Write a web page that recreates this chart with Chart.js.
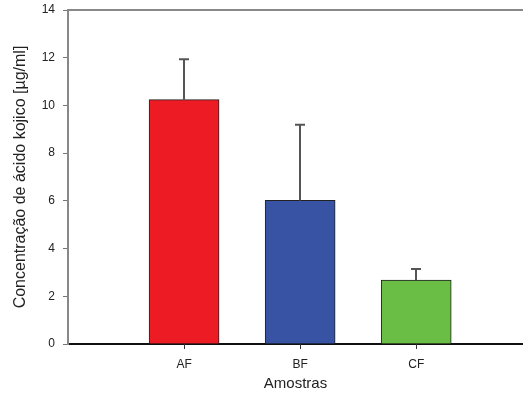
<!DOCTYPE html>
<html>
<head>
<meta charset="utf-8">
<script src="https://cdn.jsdelivr.net/npm/chart.js@4/dist/chart.umd.min.js"></script>
<style>
  html, body { margin: 0; padding: 0; background: #fff; }
  canvas { display: block; }
</style>
</head>
<body>
<canvas id="grafico" width="523" height="398"></canvas>
<script>
// amostras e concentracao media (barras) + limite superior do erro
const amostras = ["AF", "BF", "CF"];
const posicoes = [1, 2, 3];
const medias = [10.24, 6.02, 2.68];
const erroSup = [11.94, 9.19, 3.14];
const cores = ["#ED1C24", "#3953A4", "#6ABD45"];
const yTicks = [0, 2, 4, 6, 8, 10, 12, 14];

// barras de erro (so para cima), linha de cima do quadro e tracinhos do eixo x
const errorBars = {
    id: "errorBars",
    afterDatasetsDraw(chart) {
        const ctx = chart.ctx;
        const x = chart.scales.x;
        const y = chart.scales.y;
        ctx.save();
        ctx.strokeStyle = "#555";
        ctx.lineWidth = 2;
        for (let i = 0; i < medias.length; i++) {
            const px = Math.round(x.getPixelForValue(posicoes[i]));
            const top = y.getPixelForValue(erroSup[i]);
            const base = y.getPixelForValue(medias[i]);
            ctx.beginPath();
            ctx.moveTo(px, base);
            ctx.lineTo(px, top);
            ctx.moveTo(px - 5, top);
            ctx.lineTo(px + 5, top);
            ctx.stroke();
        }
        const a = chart.chartArea;
        ctx.strokeStyle = "#888";
        ctx.lineWidth = 2;
        ctx.beginPath();
        ctx.moveTo(a.left, a.top);
        ctx.lineTo(a.right, a.top);
        ctx.stroke();
        // tracinhos sob cada amostra
        ctx.strokeStyle = "#333";
        ctx.lineWidth = 1;
        ctx.beginPath();
        x.ticks.forEach(t => {
            const px = Math.round(x.getPixelForValue(t.value)) + 0.5;
            ctx.moveTo(px, a.bottom);
            ctx.lineTo(px, a.bottom + 5);
        });
        ctx.stroke();
        ctx.restore();
    }
};

new Chart(document.getElementById("grafico"), {
    type: "bar",
    data: {
        datasets: [{
            data: posicoes.map((p, i) => ({ x: p, y: medias[i] })),
            backgroundColor: cores,
            borderColor: "#222",
            borderWidth: 1,
            borderSkipped: "bottom",
            barThickness: 70
        }]
    },
    options: {
        responsive: false,
        animation: false,
        layout: { padding: { top: 10, right: 0, left: 0, bottom: 0 } },
        plugins: { legend: { display: false }, tooltip: { enabled: false } },
        scales: {
            x: {
                type: "linear",
                offset: false,
                min: 0,
                max: 3.92,
                afterBuildTicks: s => { s.ticks = posicoes.map(v => ({ value: v })); },
                afterFit: s => { s.height = 54; s.paddingLeft = 0; s.paddingRight = 0; },
                ticks: {
                    callback: v => amostras[posicoes.indexOf(v)] || "",
                    color: "#222",
                    font: { family: "Liberation Sans, Arial", size: 12 },
                    padding: 8,
                    maxRotation: 0
                },
                grid: {
                    offset: false,
                    drawOnChartArea: false,
                    drawTicks: true,
                    tickLength: 5,
                    tickColor: "#333",
                    tickWidth: 1
                },
                border: { color: "#111", width: 2 },
                title: {
                    display: true,
                    text: "Amostras",
                    color: "#222",
                    font: { family: "Liberation Sans, Arial", size: 15 },
                    padding: { top: 0, bottom: 5 }
                }
            },
            y: {
                min: 0,
                max: 14,
                afterBuildTicks: s => { s.ticks = yTicks.map(v => ({ value: v })); },
                afterFit: s => { s.width = 68; s.paddingTop = 0; s.paddingBottom = 0; },
                ticks: {
                    color: "#222",
                    font: { family: "Liberation Sans, Arial", size: 12 },
                    padding: 8
                },
                grid: { drawOnChartArea: false, drawTicks: true, tickLength: 5, tickColor: "#777", tickWidth: 1 },
                border: { color: "#888", width: 2 },
                title: {
                    display: true,
                    text: "Concentração de ácido kojico [µg/ml]",
                    color: "#222",
                    font: { family: "Liberation Sans, Arial", size: 16 },
                    padding: { top: 11, bottom: 0 }
                }
            }
        }
    },
    plugins: [errorBars]
});
</script>
</body>
</html>
